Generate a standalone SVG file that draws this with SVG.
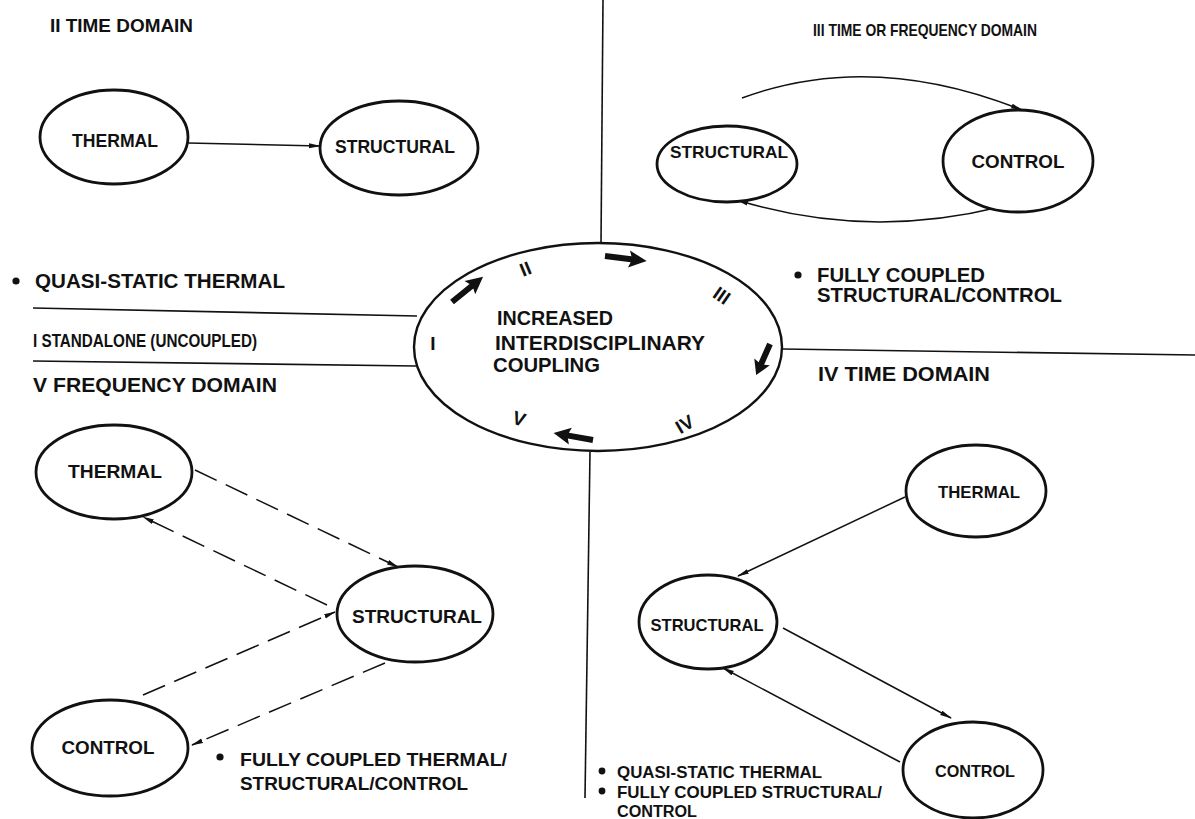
<svg xmlns="http://www.w3.org/2000/svg" width="1195" height="819" viewBox="0 0 1195 819">
  <style>
    text { font-family: "Liberation Sans", Arial, sans-serif; font-weight: bold; fill: #111; }
    .node { text-anchor: middle; }
    .num { font-size: 19px; text-anchor: middle; }
    .shape { fill: #fff; stroke: #111; stroke-width: 2.8; }
    .hub { fill: none; stroke: #111; stroke-width: 2.4; }
    .rule { stroke: #111; stroke-width: 1.6; fill: none; }
    .edge { stroke: #111; stroke-width: 1.5; fill: none; marker-end: url(#tip); }
    .dash { stroke-dasharray: 24 10; }
    .bullet { fill: #111; }
    .fat { fill: #111; }
  </style>
  <defs>
    <marker id="tip" viewBox="0 0 12 6" refX="11" refY="3" markerWidth="12" markerHeight="6" markerUnits="userSpaceOnUse" orient="auto">
      <path d="M0,0.6 L12,3 L0,5.4 Z" fill="#111"/>
    </marker>
    <!-- heavy arrow drawn along +x, tail at origin -->
    <path id="fatArrow" d="M0,-3 L25,-3 L23,-8.5 L40,0 L23,8.5 L25,3 L0,3 Z"/>
  </defs>

  <rect width="1195" height="819" fill="#fff"/>

  <!-- quadrant dividers -->
  <g id="dividers">
    <line class="rule" x1="603" y1="0" x2="601" y2="243"/>
    <line class="rule" x1="590" y1="452" x2="585" y2="798"/>
    <line class="rule" x1="33" y1="308" x2="417" y2="316"/>
    <line class="rule" x1="33" y1="361" x2="416" y2="366"/>
    <line class="rule" x1="782" y1="349" x2="1195" y2="355"/>
  </g>

  <!-- central coupling ellipse -->
  <g id="hub">
    <ellipse class="hub" cx="598" cy="347" rx="184" ry="104"/>
    <text x="497" y="325" font-size="20" textLength="116" lengthAdjust="spacingAndGlyphs">INCREASED</text>
    <text x="495" y="350" font-size="20" textLength="210" lengthAdjust="spacingAndGlyphs">INTERDISCIPLINARY</text>
    <text x="493" y="372" font-size="20" textLength="107" lengthAdjust="spacingAndGlyphs">COUPLING</text>
    <text class="num" transform="translate(433,350)">I</text>
    <text class="num" transform="translate(528,275) rotate(-22)">II</text>
    <text class="num" transform="translate(718,301) rotate(35)">III</text>
    <text class="num" transform="translate(688,430) rotate(-30)">IV</text>
    <text class="num" transform="translate(517,425) rotate(18)">V</text>
    <use href="#fatArrow" class="fat" transform="translate(452,302) rotate(-39)"/>
    <use href="#fatArrow" class="fat" transform="translate(605,256) rotate(7) scale(1.05,1)"/>
    <use href="#fatArrow" class="fat" transform="translate(770,344) rotate(114) scale(0.85,1)"/>
    <use href="#fatArrow" class="fat" transform="translate(593,440) rotate(190)"/>
  </g>

  <!-- section labels -->
  <g id="labels">
    <text x="50" y="32" font-size="19" textLength="143" lengthAdjust="spacingAndGlyphs">II TIME DOMAIN</text>
    <text x="813" y="36" font-size="17" textLength="224" lengthAdjust="spacingAndGlyphs">III TIME OR FREQUENCY DOMAIN</text>
    <circle class="bullet" cx="16" cy="281" r="3.6"/>
    <text x="35" y="288" font-size="20" textLength="250" lengthAdjust="spacingAndGlyphs">QUASI-STATIC THERMAL</text>
    <text x="33" y="347" font-size="18" textLength="224" lengthAdjust="spacingAndGlyphs">I STANDALONE (UNCOUPLED)</text>
    <text x="33" y="392" font-size="20" textLength="244" lengthAdjust="spacingAndGlyphs">V FREQUENCY DOMAIN</text>
    <circle class="bullet" cx="798" cy="275" r="3.6"/>
    <text x="817" y="282" font-size="20" textLength="168" lengthAdjust="spacingAndGlyphs">FULLY COUPLED</text>
    <text x="817" y="302" font-size="20" textLength="245" lengthAdjust="spacingAndGlyphs">STRUCTURAL/CONTROL</text>
    <text x="818" y="381" font-size="20" textLength="172" lengthAdjust="spacingAndGlyphs">IV  TIME DOMAIN</text>
    <circle class="bullet" cx="220" cy="757" r="3.6"/>
    <text x="240" y="766" font-size="19" textLength="267" lengthAdjust="spacingAndGlyphs">FULLY COUPLED THERMAL/</text>
    <text x="240" y="790" font-size="19" textLength="228" lengthAdjust="spacingAndGlyphs">STRUCTURAL/CONTROL</text>
    <circle class="bullet" cx="602" cy="771" r="3.4"/>
    <text x="617" y="778" font-size="17" textLength="205" lengthAdjust="spacingAndGlyphs">QUASI-STATIC THERMAL</text>
    <circle class="bullet" cx="602" cy="791" r="3.4"/>
    <text x="617" y="798" font-size="17" textLength="265" lengthAdjust="spacingAndGlyphs">FULLY COUPLED STRUCTURAL/</text>
    <text x="617" y="817" font-size="16" textLength="80" lengthAdjust="spacingAndGlyphs">CONTROL</text>
  </g>

  <!-- connectors -->
  <g id="connectors">
    <!-- II: thermal to structural -->
    <path class="edge" d="M188,143 L320,146"/>
    <!-- III: structural / control loop -->
    <path class="edge" d="M742,98 Q872,50 1022,110"/>
    <path class="edge" d="M1000,207 Q866,240 737,200"/>
    <!-- V: dashed frequency-domain links -->
    <path class="edge dash" d="M195,470 L398,567"/>
    <path class="edge dash" d="M327,605 L143,517"/>
    <path class="edge dash" d="M143,695 L335,612"/>
    <path class="edge dash" d="M385,663 L192,745"/>
    <!-- IV: time-domain links -->
    <path class="edge" d="M905,497 L738,576"/>
    <path class="edge" d="M783,628 L951,718"/>
    <path class="edge" d="M900,762 L723,668"/>
  </g>

  <!-- II time domain nodes -->
  <g id="ii-thermal">
    <ellipse class="shape" cx="114" cy="137" rx="74" ry="47"/>
    <text class="node" x="115" y="147" font-size="18" textLength="86" lengthAdjust="spacingAndGlyphs">THERMAL</text>
  </g>
  <g id="ii-structural">
    <ellipse class="shape" cx="399" cy="148" rx="79" ry="47"/>
    <text class="node" x="395" y="153" font-size="18" textLength="120" lengthAdjust="spacingAndGlyphs">STRUCTURAL</text>
  </g>

  <!-- III time or frequency domain nodes -->
  <g id="iii-structural">
    <ellipse class="shape" cx="727" cy="164" rx="70" ry="38"/>
    <text class="node" x="729" y="158" font-size="17" textLength="118" lengthAdjust="spacingAndGlyphs">STRUCTURAL</text>
  </g>
  <g id="iii-control">
    <ellipse class="shape" cx="1018" cy="161" rx="75" ry="51"/>
    <text class="node" x="1018" y="168" font-size="18" textLength="93" lengthAdjust="spacingAndGlyphs">CONTROL</text>
  </g>

  <!-- V frequency domain nodes -->
  <g id="v-thermal">
    <ellipse class="shape" cx="114" cy="472" rx="78" ry="47"/>
    <text class="node" x="115" y="478" font-size="19" textLength="94" lengthAdjust="spacingAndGlyphs">THERMAL</text>
  </g>
  <g id="v-structural">
    <ellipse class="shape" cx="415" cy="614" rx="78" ry="48"/>
    <text class="node" x="417" y="623" font-size="19" textLength="130" lengthAdjust="spacingAndGlyphs">STRUCTURAL</text>
  </g>
  <g id="v-control">
    <ellipse class="shape" cx="110" cy="748" rx="78" ry="48"/>
    <text class="node" x="108" y="754" font-size="19" textLength="93" lengthAdjust="spacingAndGlyphs">CONTROL</text>
  </g>

  <!-- IV time domain nodes -->
  <g id="iv-thermal">
    <ellipse class="shape" cx="976" cy="491" rx="70" ry="46"/>
    <text class="node" x="979" y="498" font-size="17" textLength="82" lengthAdjust="spacingAndGlyphs">THERMAL</text>
  </g>
  <g id="iv-structural">
    <ellipse class="shape" cx="708" cy="622" rx="69" ry="47"/>
    <text class="node" x="707" y="631" font-size="17" textLength="113" lengthAdjust="spacingAndGlyphs">STRUCTURAL</text>
  </g>
  <g id="iv-control">
    <ellipse class="shape" cx="973" cy="770" rx="70" ry="48"/>
    <text class="node" x="975" y="777" font-size="17" textLength="80" lengthAdjust="spacingAndGlyphs">CONTROL</text>
  </g>
</svg>
